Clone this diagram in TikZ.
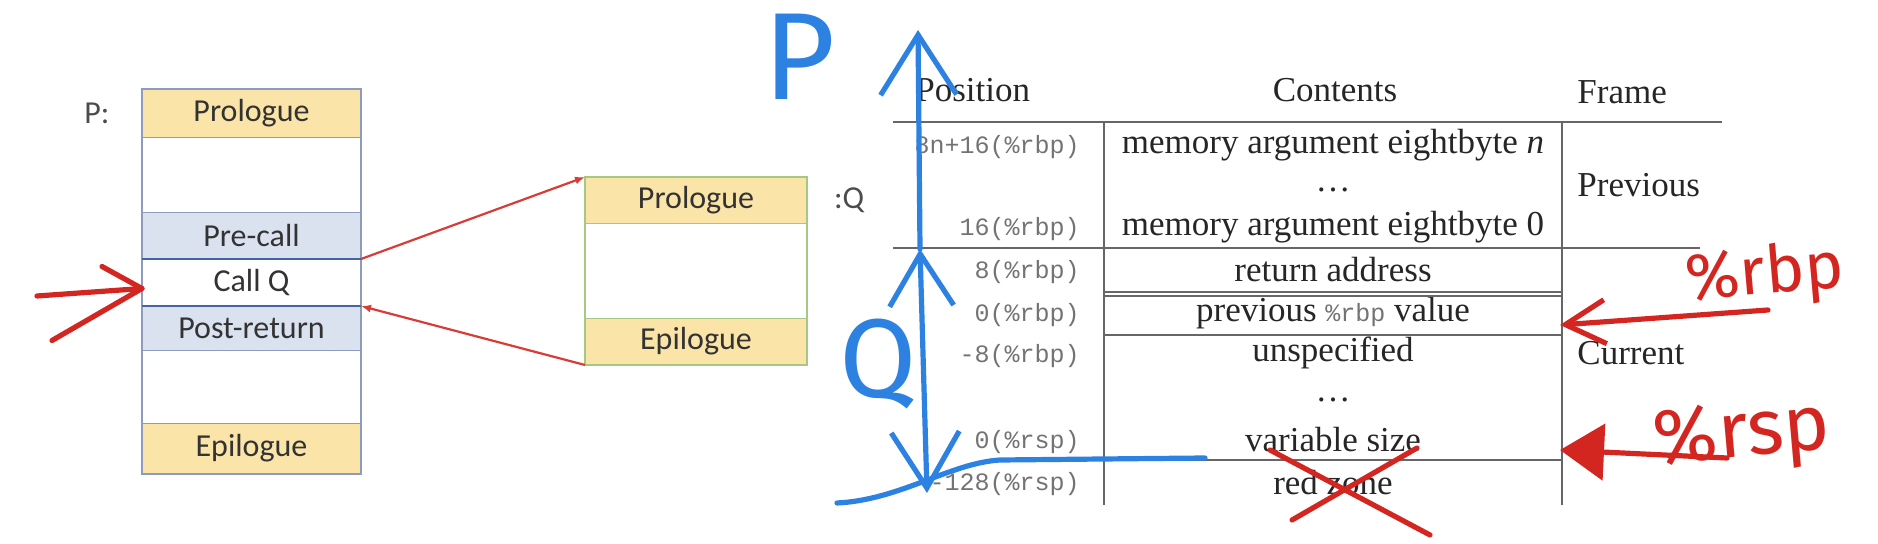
\documentclass[tikz,border=0pt]{standalone}
\usepackage{fontspec}
\setmainfont{Liberation Serif}
\newfontfamily\calib{Carlito}
\newfontfamily\monof{Liberation Mono}
\newfontfamily\handf{Fira Sans}
\usepackage{tikz}
\usetikzlibrary{positioning, arrows.meta}
\definecolor{pyellow}{RGB}{250,228,168}
\definecolor{pblue}{RGB}{218,226,240}
\definecolor{pedge}{RGB}{140,156,190}
\definecolor{pline}{RGB}{70,100,165}
\definecolor{qedge}{RGB}{165,200,130}
\definecolor{penred}{RGB}{212,38,32}
\definecolor{penblue}{RGB}{45,130,225}

\begin{document}
\begin{tikzpicture}[x=0.5pt, y=-0.5pt,
    node distance=0pt,
    band/.style={minimum width=109.5pt, inner sep=0pt, outer sep=0pt, font=\calib\fontsize{16}{18}\selectfont, text=black!80},
    qband/.style={band, minimum width=111pt},
    cell/.style={font=\fontsize{17.5}{20}\selectfont, text=black!85, inner sep=0pt},
    poscell/.style={font=\monof\fontsize{12.5}{14}\selectfont, text=black!55, anchor=east, inner sep=0pt},
    rule/.style={draw=black!60, line width=0.9pt},
    bluepen/.style={draw=penblue, line width=2.6pt, line cap=round, line join=round},
    redpen/.style={draw=penred, line width=2.6pt, line cap=round, line join=round},
    link/.style={draw=penred!90, line width=1.1pt, -{Latex[length=5pt,width=4pt]}},
    hand/.style={inner sep=0pt}
]
\useasboundingbox (0,0) rectangle (1878,544);

% caller P
\node[band, fill=pyellow, minimum height=24pt] (pro) at (251.5,113) {Prologue};
\node[band, minimum height=37.5pt, below=of pro] (blk1) {};
\node[band, fill=pblue, minimum height=23.5pt, below=of blk1] (pre) {Pre-call};
\node[band, minimum height=23.5pt, below=of pre] (callq) {Call Q};
\node[band, fill=pblue, minimum height=22pt, below=of callq] (post) {Post-return};
\node[band, minimum height=36.5pt, below=of post] (blk2) {};
\node[band, fill=pyellow, minimum height=25.5pt, below=of blk2] (epi) {Epilogue};
\draw[pedge, line width=0.8pt] (pro.north west) rectangle (epi.south east);
\draw[pedge] (pro.south west) -- (pro.south east) (blk2.south west) -- (blk2.south east)
  (pre.north west) -- (pre.north east) (post.south west) -- (post.south east);
\draw[pline, line width=1pt] (pre.south west) -- (pre.south east) (post.north west) -- (post.north east);
\node[font=\calib\fontsize{16}{18}\selectfont, text=black!70] (plab) at (97,113) {P:};

% callee Q
\node[qband, fill=pyellow, minimum height=23pt] (qpro) at (696,200) {Prologue};
\node[qband, minimum height=47.5pt, below=of qpro] (qblk) {};
\node[qband, fill=pyellow, minimum height=23.5pt, below=of qblk] (qepi) {Epilogue};
\draw[qedge, line width=0.9pt] (qpro.north west) rectangle (qepi.south east);
\draw[qedge] (qpro.south west) -- (qpro.south east) (qepi.north west) -- (qepi.north east);
\node[font=\calib\fontsize{16}{18}\selectfont, text=black!70, right=10pt of qpro.east] (qlab) {:Q};

\draw[link] (pre.south east) -- (qpro.north west);
\draw[link] (qepi.south west) -- (post.north east);

% red arrow into Call Q
\coordinate (callin) at (37,296);
\coordinate (calltip) at ([yshift=-3pt]callq.west);
\draw[redpen] (callin) -- (calltip);
\draw[redpen] ([shift={(-40,-22)}]calltip) -- (calltip) -- ([shift={(-90,52)}]calltip);

% stack frame table
\node[cell, anchor=west] (hpos) at (915,90) {Position};
\node[cell] (hcont) at (1335,90) {Contents};
\node[cell, anchor=west] (hframe) at (1577,92) {Frame};

\node[poscell] (p1) at (1080,147) {8n+16(\%rbp)};
\node[poscell] (p2) at (1080,229) {16(\%rbp)};
\node[poscell] (p3) at (1080,272) {8(\%rbp)};
\node[poscell] (p4) at (1080,315) {0(\%rbp)};
\node[poscell] (p5) at (1080,356) {-8(\%rbp)};
\node[poscell] (p6) at (1080,442) {0(\%rsp)};
\node[poscell] (p7) at (1080,484) {-128(\%rsp)};

\node[cell] (c1) at (1333,145) {memory argument eightbyte \textit{n}};
\node[cell] (c2) at (1333,190) {\dots};
\node[cell] (c3) at (1333,227) {memory argument eightbyte 0};
\node[cell] (c4) at (1333,270) {return address};
\node[cell] (c5) at (1333,313) {previous {\monof\fontsize{12.5}{14}\selectfont\color{black!55}\%rbp} value};
\node[cell] (c6) at (1333,353) {unspecified};
\node[cell] (c7) at (1333,400) {\dots};
\node[cell] (c8) at (1333,440) {variable size};
\node[cell] (c9) at (1333,483) {red zone};

\node[cell, anchor=west] (fprev) at (1577,185) {Previous};
\node[cell, anchor=west] (fcur) at (1577,353) {Current};

\draw[rule] (893,122) -- (1722,122);
\draw[rule] (893,248) -- (1700,248);
\draw[rule] (1104,122) -- (1104,505);
\draw[rule] (1562,122) -- (1562,505);
\draw[rule] (1104,292) -- (1562,292);
\draw[rule] (1104,296) -- (1562,296);
\draw[rule] (1104,335) -- (1562,335);
\draw[rule] (1104,460) -- (1562,460);

% blue pen notes
\node[hand, text=penblue, font=\handf\fontsize{62}{62}\selectfont] (pmark) at (800,57) {P};
\node[hand, text=penblue, font=\handf\fontsize{56}{56}\selectfont] (qmark) at (878,364) {Q};
\coordinate (ptop) at (918,30);
\coordinate (qtop) at (920,249);
\coordinate (qbot) at (927,493);
\draw[bluepen, -{Straight Barb[length=30pt,width=38pt]}] (qtop) -- (ptop);
\draw[bluepen, {Straight Barb[length=26pt,width=32pt]}-{Straight Barb[length=28pt,width=34pt]}] (qtop) -- (qbot);
\coordinate (base0) at (837,503);
\coordinate (base1) at (1205,458);
\draw[bluepen] (base0) .. controls (900,500) and (950,463) .. (1000,460) -- (base1);

% red pen notes
\node[hand, text=penred, font=\handf\fontsize{33}{33}\selectfont, rotate=5] (rbplab) at (1765,276) {\%rbp};
\node[hand, text=penred, font=\handf\fontsize{39}{39}\selectfont, rotate=5] (rsplab) at (1742,437) {\%rsp};
\coordinate (rbptail) at (1768,310);
\coordinate (rbptip) at (1560,325);
\draw[redpen, -{Straight Barb[length=20pt,width=22pt]}] (rbptail) -- (rbptip);
\coordinate (rsptail) at (1727,458);
\coordinate (rsptip) at (1560,450);
\draw[redpen, -{Triangle[length=22pt,width=28pt]}] (rsptail) -- (rsptip);
\coordinate (xa1) at (1270,450);
\coordinate (xa2) at (1430,535);
\coordinate (xb1) at (1417,448);
\coordinate (xb2) at (1292,520);
\draw[redpen] (xa1) -- (xa2) (xb1) -- (xb2);
\end{tikzpicture}
\end{document}
